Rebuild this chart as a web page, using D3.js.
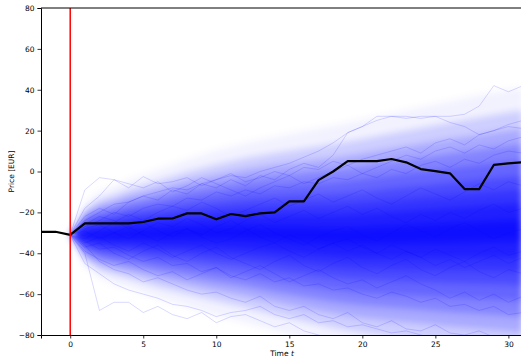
<!DOCTYPE html>
<html>
<head>
<meta charset="utf-8">
<script src="https://cdn.jsdelivr.net/npm/d3@7"></script>
<style>
  html, body { margin: 0; padding: 0; background: #fff; }
  svg { display: block; font-family: "DejaVu Sans", sans-serif; }
</style>
</head>
<body>
<div id="chart"></div>
<script>
// historical price (t <= 0) and one highlighted simulated path (t >= 0)
const histT = [-2, -1, 0];
const histPrice = [-29.5, -29.5, -31];
const pathT = d3.range(0, 32);
const highlightPath = [-31, -25.4, -25.4, -25.4, -25.4, -24.7, -23.1, -23, -20.5, -20.5, -23.4, -20.8, -21.8, -20.5, -20,
  -14.6, -14.6, -4.2, 0, 5.1, 5.1, 5.1, 6.1, 4.5, 1.2, 0.2, -0.9, -8.6, -8.6, 3.2, 4, 4.5];

// density of the simulated fan: centre and half-widths of nested bands
const bandT = [0, 1, 2, 3, 4, 6, 8, 10, 12, 14, 16, 18, 20, 22, 24, 26, 28, 30, 31];
const bandCentre = [-31, -31, -31, -31, -30.5, -30.5, -30, -30, -30, -30.5, -31, -31.5, -31.5, -31, -30.5, -30, -29.5, -29, -29];
const spreadExtreme = [0, 15.5, 21, 24, 26.5, 31.5, 36, 40.5, 44, 47.5, 51, 54, 57, 59.5, 62, 64.5, 67, 69, 70];
const spreadOuter = [0, 12.6, 17.3, 19.5, 21.8, 26, 29.9, 33.4, 36.6, 39.6, 42.3, 44.9, 47.4, 49.7, 51.8, 54, 55.9, 58, 58.9];
const spreadOuter2 = [0, 10.7, 14.6, 16.6, 18.5, 22, 25.4, 28.3, 31, 33.5, 35.9, 38, 40.2, 42.1, 43.9, 45.8, 47.4, 49.1, 49.9];
const spreadWide = [0, 9.1, 12.4, 14, 15.7, 18.6, 21.5, 23.9, 26.2, 28.4, 30.4, 32.2, 34, 35.6, 37.1, 38.8, 40.1, 41.6, 42.2];
const spreadWide2 = [0, 7.4, 10.1, 11.5, 12.8, 15.3, 17.6, 19.6, 21.5, 23.2, 24.8, 26.3, 27.8, 29.2, 30.4, 31.7, 32.8, 34, 34.6];
const spreadMid = [0, 5.7, 7.8, 8.8, 9.9, 11.8, 13.5, 15.1, 16.5, 17.9, 19.1, 20.3, 21.4, 22.5, 23.4, 24.4, 25.3, 26.2, 26.6];
const spreadMid2 = [0, 4.3, 5.9, 6.6, 7.4, 8.8, 10.1, 11.3, 12.4, 13.4, 14.4, 15.2, 16.1, 16.8, 17.6, 18.3, 19, 19.7, 20];
const spreadInner = [0, 2.9, 3.9, 4.4, 4.9, 5.9, 6.8, 7.5, 8.3, 8.9, 9.6, 10.1, 10.7, 11.2, 11.7, 12.2, 12.6, 13.1, 13.3];
const spreadCore = [0, 1.1, 1.5, 1.7, 1.9, 2.3, 2.6, 2.9, 3.2, 3.4, 3.7, 3.9, 4.1, 4.3, 4.5, 4.7, 4.9, 5, 5.1];

// a few individual simulated paths (t = 0..31)
const samplePaths = [
  [-31,-24,-20,-16,-15,-12,-10,-8,-9,-6,-4,-2,-3,0,2,4,7,10,14,19,22,25,27,27,26,27,27,28,32,42,39,42],
  [-31,-9,-3,-4,-8,-2.5,-6,-5,-3,-7,-4,-1,-5,-3,0,-2,2,1,5,3,6,8,10,12,9,14,16,13,18,20,22,21],
  [-31,-40,-68,-64,-64,-69,-66,-70,-72,-69,-74,-71,-70,-73,-76,-74,-78,-80,-82,-84,-85,-86,-86,-88,-88,-90,-90,-90,-90,-90,-90,-90],
  [-31,-36,-44,-48,-50,-54,-52,-55,-58,-60,-59,-62,-64,-61,-66,-68,-66,-70,-72,-69,-74,-76,-73,-77,-78,-75,-79,-80,-78,-81,-83,-82],
  [-31,-27,-24,-20,-22,-18,-16,-17,-13,-14,-10,-12,-9,-11,-7,-8,-5,-6,-3,-4,-1,-3,1,-1,3,5,2,6,4,8,10,9],
  [-31,-34,-38,-37,-41,-44,-42,-46,-45,-49,-47,-51,-53,-50,-54,-52,-56,-55,-58,-57,-60,-62,-59,-61,-64,-62,-66,-65,-68,-66,-70,-69],
  [-31,-29,-33,-30,-27,-31,-34,-30,-28,-32,-35,-33,-29,-26,-30,-33,-36,-32,-29,-27,-31,-34,-30,-26,-29,-32,-28,-25,-29,-33,-30,-28],
  [-31,-33,-29,-25,-21,-24,-20,-17,-19,-15,-18,-22,-19,-16,-13,-17,-14,-11,-15,-12,-9,-13,-16,-12,-8,-11,-14,-10,-6,-9,-5,-7],
  [-31,-37,-35,-40,-43,-39,-36,-41,-44,-40,-37,-42,-45,-48,-44,-41,-46,-49,-45,-42,-47,-50,-46,-43,-48,-51,-47,-44,-49,-52,-48,-50],
  [-31,-22,-18,-21,-15,-12,-14,-9,-11,-6,-8,-4,-7,-2,-4,1,4,2,8,19,22,27,27,26,27,27,24,22,18,20,23,25],
  [-31,-45,-50,-55,-58,-60,-62,-65,-66,-68,-71,-69,-68,-66,-70,-72,-70,-74,-73,-76,-75,-77,-79,-78,-80,-82,-81,-83,-84,-85,-86,-86],
  [-31,-28,-26,-30,-33,-29,-25,-27,-23,-26,-30,-28,-24,-21,-25,-22,-19,-23,-20,-17,-21,-18,-22,-25,-21,-24,-20,-23,-19,-16,-20,-18],
  [-31,-35,-32,-36,-39,-35,-38,-42,-39,-36,-40,-43,-40,-37,-35,-39,-42,-38,-35,-33,-37,-40,-36,-39,-42,-38,-41,-44,-40,-37,-41,-39],
  [-31,-18,-12,-4,-6,-8,-5,-10,-7,-3,-6,-9,-12,-8,-5,-2,-6,-3,0,3,-1,2,5,8,6,10,12,9,13,11,15,17],
  [-31,-39,-43,-46,-44,-48,-51,-49,-53,-50,-47,-52,-49,-46,-50,-54,-51,-48,-52,-55,-53,-57,-54,-51,-55,-58,-62,-59,-63,-60,-64,-61],
  [-31,-26,-22,-24,-28,-25,-29,-32,-28,-31,-27,-24,-28,-32,-35,-31,-34,-38,-35,-39,-36,-40,-43,-39,-42,-46,-43,-47,-44,-41,-45,-42]
];

const xTicks = [0, 5, 10, 15, 20, 25, 30];
const yTicks = [-80, -60, -40, -20, 0, 20, 40, 60, 80];

const W = 521, H = 358;
const margin = { top: 8, right: -2, bottom: 23, left: 41 };
const width = W - margin.left - margin.right;
const height = H - margin.top - margin.bottom;

const svg = d3.select('#chart').append('svg')
  .attr('width', W)
  .attr('height', H);

const x = d3.scaleLinear().domain([-2, 31]).range([0, width]);
const y = d3.scaleLinear().domain([-80, 80]).range([height, 0]);

const defs = svg.append('defs');
defs.append('clipPath').attr('id', 'plot-clip')
  .append('rect').attr('width', width).attr('height', height);
defs.append('filter').attr('id', 'soft')
  .attr('x', '-5%').attr('y', '-10%').attr('width', '110%').attr('height', '120%')
  .append('feGaussianBlur').attr('stdDeviation', 3.5);

const g = svg.append('g')
  .attr('transform', `translate(${margin.left},${margin.top})`);

const plot = g.append('g').attr('clip-path', 'url(#plot-clip)');

// fan density bands, outermost first
const bands = [
  { spread: spreadExtreme, opacity: 0.05 },
  { spread: spreadOuter, opacity: 0.15 },
  { spread: spreadOuter2, opacity: 0.18 },
  { spread: spreadWide, opacity: 0.22 },
  { spread: spreadWide2, opacity: 0.24 },
  { spread: spreadMid, opacity: 0.27 },
  { spread: spreadMid2, opacity: 0.3 },
  { spread: spreadInner, opacity: 0.4 },
  { spread: spreadCore, opacity: 0.5 }
];

const bandLayer = plot.append('g').attr('filter', 'url(#soft)');
bands.forEach(b => {
  const area = d3.area()
    .x((d, i) => x(bandT[i]))
    .y0((d, i) => y(bandCentre[i] - b.spread[i]))
    .y1((d, i) => y(bandCentre[i] + b.spread[i]));
  bandLayer.append('path')
    .datum(bandT)
    .attr('fill', '#0000ff')
    .attr('fill-opacity', b.opacity)
    .attr('d', area);
});

// individual paths
const pathLine = d3.line()
  .x((d, i) => x(pathT[i]))
  .y(d => y(d));

plot.append('g')
  .selectAll('path')
  .data(samplePaths)
  .enter().append('path')
  .attr('fill', 'none')
  .attr('stroke', '#0000ff')
  .attr('stroke-opacity', 0.15)
  .attr('stroke-width', 1)
  .attr('d', pathLine);

// history + highlighted path
const histLine = d3.line()
  .x((d, i) => x(histT[i]))
  .y(d => y(d));

plot.append('path')
  .datum(histPrice)
  .attr('fill', 'none')
  .attr('stroke', '#000')
  .attr('stroke-width', 2.2)
  .attr('d', histLine);

plot.append('path')
  .datum(highlightPath)
  .attr('fill', 'none')
  .attr('stroke', '#000')
  .attr('stroke-width', 2.2)
  .attr('stroke-linejoin', 'round')
  .attr('d', pathLine);

// red marker at t = 0
plot.append('line')
  .attr('x1', x(0)).attr('x2', x(0))
  .attr('y1', 0).attr('y2', height)
  .attr('stroke', '#ff0000')
  .attr('stroke-width', 1.5);

// axes
const fmt = d => d < 0 ? '\u2212' + Math.abs(d) : String(d);

const xAxis = g.append('g')
  .attr('transform', `translate(0,${height})`)
  .call(d3.axisBottom(x).tickValues(xTicks).tickFormat(fmt).tickSize(3.5).tickPadding(3));

const yAxis = g.append('g')
  .call(d3.axisLeft(y).tickValues(yTicks).tickFormat(fmt).tickSize(3.5).tickPadding(3));

[xAxis, yAxis].forEach(a => {
  a.select('.domain').attr('stroke', '#000').attr('stroke-width', 1);
  a.selectAll('.tick line').attr('stroke', '#000').attr('stroke-width', 0.8);
  a.selectAll('.tick text').attr('fill', '#000').attr('font-size', '7.5px')
    .attr('font-family', '"DejaVu Sans", sans-serif');
});

// top spine
g.append('line')
  .attr('x1', 0).attr('x2', width)
  .attr('y1', 0).attr('y2', 0)
  .attr('stroke', '#000').attr('stroke-width', 1);

// labels
const xLabel = svg.append('text')
  .attr('x', margin.left + width / 2)
  .attr('y', 356)
  .attr('text-anchor', 'middle')
  .attr('font-size', '7.5px')
  .attr('fill', '#000');
xLabel.append('tspan').text('Time ');
xLabel.append('tspan').attr('font-style', 'italic').text('t');

svg.append('text')
  .attr('transform', `translate(14,${margin.top + height / 2}) rotate(-90)`)
  .attr('text-anchor', 'middle')
  .attr('font-size', '7.5px')
  .attr('fill', '#000')
  .text('Price [EUR]');
</script>
</body>
</html>
